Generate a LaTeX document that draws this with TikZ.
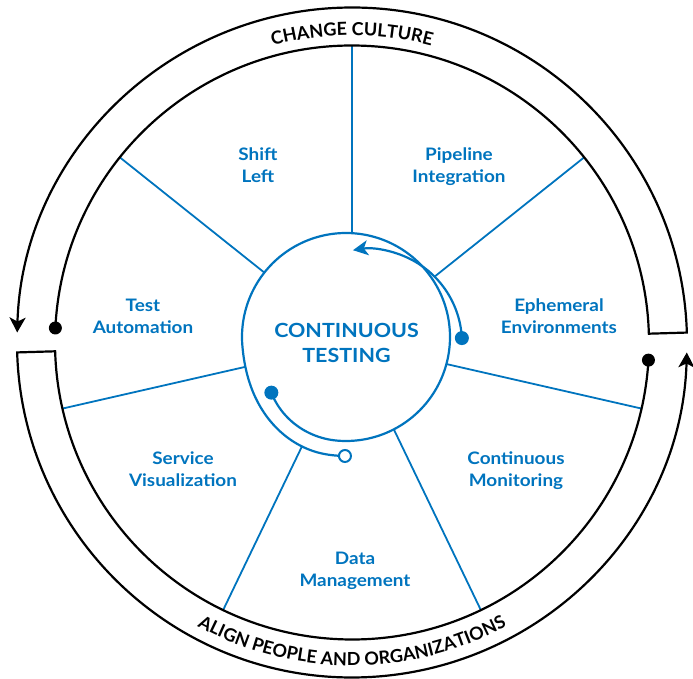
\documentclass[tikz,border=0pt]{standalone}
\usepackage{fontspec}
\setmainfont{Lato}[FakeStretch=1.1]
\newfontfamily\bandfamily{Lato}
\usepackage{tikz}
\usetikzlibrary{
	arrows.meta,
	decorations.text
}
\definecolor{ctblue}{RGB}{0,116,190}
\newcommand\bandfont{\bandfamily\fontsize{18}{20}\selectfont\bfseries}

\begin{document}
\begin{tikzpicture}[
		x=1pt, y=1pt,
		declare function={
			hubramp(\t)=min(1,max(0,(\t-545)/75));
			hubrad(\t)=104-10.5*(max(0,(265-\t)/47.4))^2+15*(3*hubramp(\t)^2-2*hubramp(\t)^3);
		},
		spoke/.style={ctblue, line width=1.8pt},
		hubline/.style={ctblue, line width=2.2pt},
		mainturn/.style={variable=\t, domain=216.7:629.5, samples=240},
		band/.style={line width=2.2pt},
		fdot/.style={circle, fill=ctblue, inner sep=0pt, minimum size=14pt},
		odot/.style={circle, draw=ctblue, fill=white, line width=2pt, inner sep=0pt, minimum size=12pt},
		bdot/.style={circle, fill=black, inner sep=0pt, minimum size=13pt},
		segtext/.style={text=ctblue, align=center, font=\fontsize{17.2}{22}\selectfont\bfseries},
		title/.style={text=ctblue, align=center, font=\fontsize{19.5}{25}\selectfont\bfseries}
	]
	\useasboundingbox (-352,-336.5) rectangle (341,342.5);

	\foreach \k in {0,...,6}
		\draw[spoke] (0,0) -- ({90-\k*360/7}:297);

	\coordinate (turn) at (16,-0.5);
	\begin{scope}[shift={(-6,5.5)}]
		\fill[white] plot[mainturn] (\t:{hubrad(\t)});
		\fill[white] ([shift={(3:94)}]turn) arc[start angle=3, end angle=99.2, radius=94];
		\draw[hubline] plot[mainturn] (\t:{hubrad(\t)});
		\node[fdot] (loopstart) at (216.7:93.1) {};
		\node[odot] (loopend) at (269.5:119) {};
		\node[title] (ct) at (0.5,-6) {CONTINUOUS\\TESTING};
	\end{scope}
	\draw[hubline, -{Stealth[length=15pt, width=15pt, inset=4pt]}]
		([shift={(3:94)}]turn) arc[start angle=3, end angle=99.2, radius=94];
	\node[fdot] (turnstart) at ([shift={(3:94)}]turn) {};

	\draw[band, -{Stealth[length=15pt, width=16pt, inset=4pt]}]
		(177.2:297) arc[start angle=177.2, end angle=1.7, radius=297]
		-- (1.7:335) arc[start angle=1.7, end angle=178.3, radius=335];
	\node[bdot] (culturedot) at (177.2:297) {};
	\draw[band, -{Stealth[length=15pt, width=16pt, inset=4pt]}]
		(356.6:297) arc[start angle=356.6, end angle=181.7, radius=297]
		-- (181.7:335) arc[start angle=181.7, end angle=358.3, radius=335];
	\node[bdot] (aligndot) at (356.6:297) {};

	\path[decorate, decoration={text along path, text align=center,
		text={|\bandfont|CHANGE CULTURE}}]
		(125:307) arc[start angle=125, end angle=55, radius=307];
	\path[decorate, decoration={text along path, text align=center,
		text={|\bandfont|ALIGN PEOPLE AND ORGANIZATIONS}}]
		(230:323) arc[start angle=230, end angle=310, radius=323];

	\node[segtext] (shiftleft)   at (-94,177.5)   {Shift\\Left};
	\node[segtext] (pipeline)    at (107,175.5)   {Pipeline\\Integration};
	\node[segtext] (ephemeral)   at (207,26.5)    {Ephemeral\\Environments};
	\node[segtext] (monitoring)  at (164,-128.5)  {Continuous\\Monitoring};
	\node[segtext] (datamgmt)    at (3,-228.5)    {Data\\Management};
	\node[segtext] (servicevirt) at (-169,-126.5) {Service\\Visualization};
	\node[segtext] (automation)  at (-209,26.5)   {Test\\Automation};
\end{tikzpicture}
\end{document}
